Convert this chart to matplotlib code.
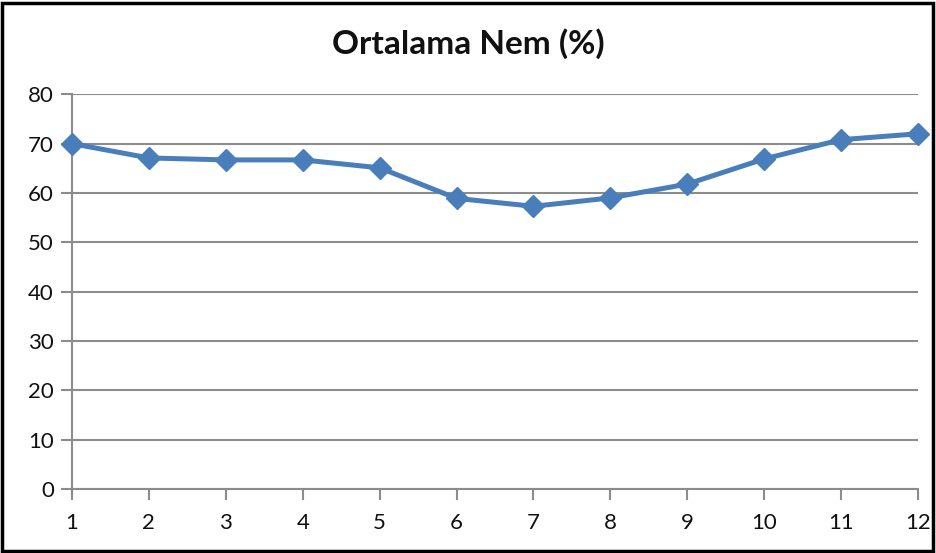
import matplotlib
matplotlib.use("Agg")
import matplotlib.pyplot as plt
from matplotlib.patches import Rectangle

months = [1, 2, 3, 4, 5, 6, 7, 8, 9, 10, 11, 12]
humidity = [70.0, 67.1, 66.7, 66.7, 65.1, 58.9, 57.3, 59.0, 61.8, 66.9, 70.8, 72.0]
yticks = [0, 10, 20, 30, 40, 50, 60, 70, 80]
title = "Ortalama Nem (%)"

plt.rcParams['font.family'] = ['Lato', 'DejaVu Sans']

fig = plt.figure(figsize=(9.36, 5.53), dpi=100)
ax = fig.add_axes([72/936, 1-489/553, (918-72)/936, (489-94.3)/553])

grid_c = '#8c8c8c'
ax.plot(months, humidity, color='#4a7ebb', lw=3.6, marker='D', ms=11,
        markeredgecolor='#4a7ebb', markerfacecolor='#4a7ebb', clip_on=False, zorder=3)

ax.set_xlim(1, 12)
ax.set_ylim(0, 80)
ax.set_xticks(months)
ax.set_yticks(yticks)
ax.yaxis.grid(True, color=grid_c, lw=1.5)
ax.set_axisbelow(True)
for s in ['top', 'right']:
    ax.spines[s].set_visible(False)
for s in ['left', 'bottom']:
    ax.spines[s].set_color(grid_c)
    ax.spines[s].set_linewidth(1.5)
ax.tick_params(axis='both', colors=grid_c, width=1.5, length=8, labelcolor='#111111',
               labelsize=16)
ax.tick_params(axis='x', pad=9)
ax.tick_params(axis='y', pad=5)

fig.text(0.5, 1-44/553, title, ha='center', va='center', fontsize=24, fontweight='bold',
         color='#111111')

fig.patches.append(Rectangle((2/936, 2/553), 931/936, 548/553, transform=fig.transFigure,
                             fill=False, edgecolor='black', lw=2.5))

fig.savefig('out.png', dpi=100)
